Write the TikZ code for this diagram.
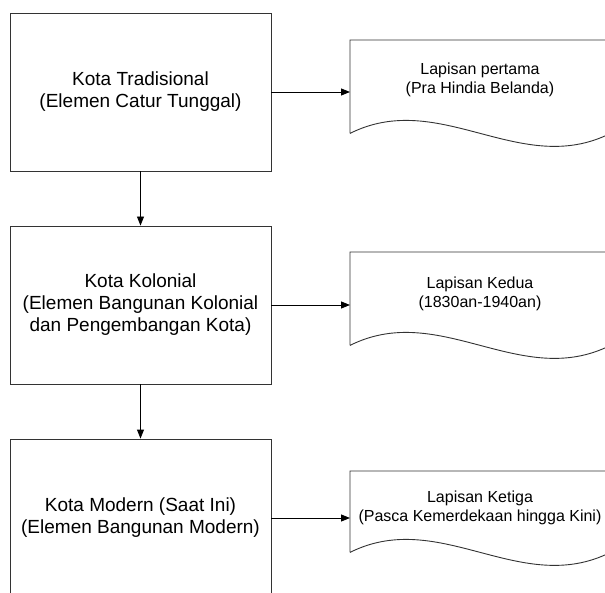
\documentclass[tikz,border=0pt]{standalone}
\usepackage{fontspec}
\setmainfont{Liberation Sans}
\usetikzlibrary{arrows.meta}
\begin{document}
\begin{tikzpicture}[x=1pt,y=-1pt,
  boxnode/.style={draw=black!80,line width=0.9pt,minimum width=261pt,minimum height=158pt,inner sep=0pt,align=center,font=\fontsize{19}{22}\selectfont},
  docframe/.style={draw=none,minimum width=260pt,inner sep=0pt,anchor=north west},
  doctext/.style={align=center,inner sep=0pt,font=\fontsize{16}{19.5}\selectfont},
  docline/.style={draw=black!80,line width=0.9pt},
  arr/.style={draw=black,line width=0.9pt,-{Triangle[length=9pt,width=7pt]}}]
\clip (0,0) rectangle (605,593);
\fill[white] (0,0) rectangle (605,593);
% left boxes
\node[boxnode] (b1) at (140.5,92) {Kota Tradisional\\(Elemen Catur Tunggal)};
\node[boxnode] (b2) at (140.5,305) {Kota Kolonial\\(Elemen Bangunan Kolonial\\dan Pengembangan Kota)};
\node[boxnode] (b3) at (140.5,518) {Kota Modern (Saat Ini)\\(Elemen Bangunan Modern)};
% document frames
\node[docframe,minimum height=93pt] (d1) at (350,40) {};
\node[docframe,minimum height=93pt] (d2) at (350,252) {};
\node[docframe,minimum height=81pt] (d3) at (350,471) {};
\foreach \d in {d1,d2,d3}{
  \draw[docline] (\d.south west) -- (\d.north west) -- (\d.north east) -- (\d.south east)
    .. controls ([xshift=-90pt,yshift=-45pt]\d.south east) and ([xshift=90pt,yshift=45pt]\d.south west) .. (\d.south west);
}
\node[doctext] (t1) at (480,80) {Lapisan pertama\\(Pra Hindia Belanda)};
\node[doctext] (t2) at (480,294) {Lapisan Kedua\\(1830an-1940an)};
\node[doctext] (t3) at (480,508) {Lapisan Ketiga\\(Pasca Kemerdekaan hingga Kini)};
% connectors
\draw[arr] (b1.south) -- (b2.north);
\draw[arr] (b2.south) -- (b3.north);
\draw[arr] (b1.east) -- (b1.east -| d1.west);
\draw[arr] (b2.east) -- (b2.east -| d2.west);
\draw[arr] (b3.east) -- (b3.east -| d3.west);
\end{tikzpicture}
\end{document}
